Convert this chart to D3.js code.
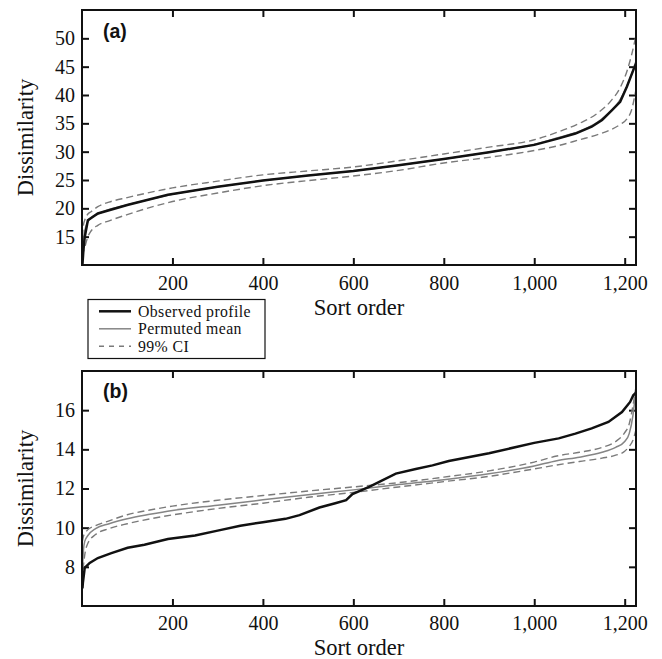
<!DOCTYPE html>
<html lang="en">
<head>
  <meta charset="UTF-8">
  <title>Dissimilarity profiles</title>
  <script src="https://d3js.org/d3.v7.min.js"></script>
  <style>
    body { margin: 0; background: white; }
    .tick text { font-family: "Liberation Serif", "Times New Roman", serif; font-size: 20px; fill: #111; }
    .tick line { stroke: #111; stroke-width: 2px; }
    .frame { fill: none; stroke: #111; stroke-width: 2px; }
    .title { font-family: "Liberation Serif", "Times New Roman", serif; font-size: 22.5px; fill: #111; }
    .panel-label { font-family: "Liberation Sans", Arial, sans-serif; font-size: 19.5px; font-weight: bold; fill: #111; }
    .observed { fill: none; stroke: #111; stroke-width: 2.5px; }
    .mean { fill: none; stroke: #858585; stroke-width: 1.5px; }
    .ci { fill: none; stroke: #7a7a7a; stroke-width: 1.4px; stroke-dasharray: 7,4; }
    .legend text { font-family: "Liberation Serif", "Times New Roman", serif; font-size: 15.8px; letter-spacing: 0.4px; fill: #111; }
  </style>
</head>
<body>
<svg id="chart" width="662" height="659"></svg>
<script>
  // x tick labels (sort order)
  const xTicks = [200, 400, 600, 800, 1000, 1200];

  // panel (a) values
  const yTicksA = [15, 20, 25, 30, 35, 40, 45, 50];
  const ordA = [1, 3, 6, 13, 35, 100, 190, 300, 400, 500, 600, 700, 800, 900, 1000, 1054, 1091, 1127, 1150, 1172, 1190, 1205, 1222, 1225];
  const obsA = [10.1, 12.5, 14.9, 17.9, 19.1, 20.6, 22.4, 23.8, 24.9, 25.8, 26.6, 27.6, 28.7, 29.9, 31.2, 32.35, 33.2, 34.4, 35.6, 37.35, 38.8, 41.5, 45.0, 45.5];
  const gridA = [1, 3, 6, 13, 20, 35, 60, 100, 200, 300, 400, 500, 600, 700, 800, 900, 1000, 1050, 1100, 1140, 1170, 1190, 1205, 1215, 1225];
  const meanA = [11, 14, 16, 17.6, 18.3, 19.0, 19.8, 20.6, 22.5, 23.8, 24.9, 25.8, 26.6, 27.6, 28.7, 29.9, 31.3, 32.4, 33.6, 35.2, 37.2, 39.2, 41.6, 43.6, 46];
  const upperA = [15, 17, 17.9, 19.0, 19.4, 20.3, 21.1, 21.9, 23.6, 24.8, 25.9, 26.6, 27.3, 28.4, 29.6, 30.8, 32.1, 33.4, 35.0, 36.8, 39.0, 41.3, 44.2, 47.0, 50.5];
  const lowerA = [11.5, 12.3, 13.1, 15.0, 16.0, 17.0, 17.8, 18.9, 21.2, 22.7, 24.0, 24.9, 25.7, 26.7, 28.0, 29.0, 30.2, 31.0, 32.1, 33.0, 33.9, 34.8, 35.8, 37.3, 41];

  // panel (b) values
  const yTicksB = [8, 10, 12, 14, 16];
  const ordB = [1, 2, 6, 17, 35, 65, 101, 138, 190, 250, 300, 350, 400, 450, 481, 525, 560, 584, 598, 635, 664, 694, 738, 775, 811, 900, 1000, 1054, 1091, 1127, 1164, 1194, 1212, 1219, 1225];
  const obsB = [6.9, 7.2, 7.95, 8.2, 8.45, 8.7, 8.97, 9.13, 9.42, 9.6, 9.85, 10.1, 10.28, 10.45, 10.64, 11.03, 11.25, 11.4, 11.71, 12.08, 12.42, 12.76, 13.0, 13.18, 13.4, 13.8, 14.33, 14.56, 14.8, 15.07, 15.4, 15.9, 16.42, 16.76, 16.9];
  const gridB = [1, 3, 6, 13, 30, 60, 100, 150, 200, 300, 400, 500, 600, 700, 800, 900, 1000, 1050, 1100, 1150, 1180, 1200, 1210, 1218, 1225];
  const meanB = [7.8, 8.8, 9.3, 9.6, 9.95, 10.2, 10.45, 10.68, 10.88, 11.15, 11.42, 11.68, 11.93, 12.2, 12.45, 12.75, 13.15, 13.42, 13.6, 13.85, 14.1, 14.4, 14.8, 15.7, 17.1];
  const upperB = [9.3, 9.55, 9.7, 9.9, 10.1, 10.35, 10.66, 10.9, 11.1, 11.4, 11.64, 11.87, 12.08, 12.3, 12.58, 12.9, 13.35, 13.66, 13.85, 14.1, 14.4, 14.85, 15.3, 16.2, 17.2];
  const lowerB = [7.3, 8.0, 8.6, 9.2, 9.65, 9.95, 10.2, 10.45, 10.65, 10.98, 11.25, 11.55, 11.8, 12.08, 12.35, 12.62, 13.0, 13.2, 13.38, 13.55, 13.7, 13.9, 14.15, 14.45, 15.0];

  const legendItems = ["Observed profile", "Permuted mean", "99% CI"];

  const svg = d3.select("#chart");
  const left = 82, right = 636;

  const zip = (xs, ys) => xs.map((x, i) => [x, ys[i]]);

  function drawPanel(opt) {
    const x = d3.scaleLinear().domain([0, 1225]).range([left, right]);
    const y = d3.scaleLinear().domain(opt.yDomain).range([opt.bottom, opt.top]);
    const g = svg.append("g");

    // inward ticks on all four sides
    g.append("g").attr("transform", `translate(0,${opt.bottom})`)
      .call(d3.axisBottom(x).tickValues(xTicks).tickFormat(d3.format(",")).tickSizeInner(-7).tickSizeOuter(0).tickPadding(opt.xPad));
    g.append("g").attr("transform", `translate(0,${opt.top})`)
      .call(d3.axisTop(x).tickValues(xTicks).tickFormat("").tickSizeInner(-7).tickSizeOuter(0));
    g.append("g").attr("transform", `translate(${left},0)`)
      .call(d3.axisLeft(y).tickValues(opt.yTicks).tickSizeInner(-7).tickSizeOuter(0).tickPadding(7));
    g.append("g").attr("transform", `translate(${right},0)`)
      .call(d3.axisRight(y).tickValues(opt.yTicks).tickFormat("").tickSizeInner(-7).tickSizeOuter(0));
    g.selectAll(".domain").remove();

    const line = d3.line().x(d => x(d[0])).y(d => y(d[1]));
    const smooth = d3.line().x(d => x(d[0])).y(d => y(d[1])).curve(d3.curveMonotoneX);

    g.append("path").attr("class", "ci").attr("d", smooth(zip(opt.grid, opt.upper)));
    g.append("path").attr("class", "ci").attr("d", smooth(zip(opt.grid, opt.lower)));
    g.append("path").attr("class", "mean").attr("d", smooth(zip(opt.grid, opt.mean)));
    g.append("path").attr("class", "observed").attr("d", line(zip(opt.ord, opt.obs)));

    g.append("rect").attr("class", "frame")
      .attr("x", left).attr("y", opt.top)
      .attr("width", right - left).attr("height", opt.bottom - opt.top);

    g.append("text").attr("class", "panel-label")
      .attr("x", 103).attr("y", opt.labelY).text(opt.label);

    g.append("text").attr("class", "title")
      .attr("text-anchor", "middle")
      .attr("x", (left + right) / 2).attr("y", opt.xTitleY)
      .text("Sort order");

    g.append("text").attr("class", "title")
      .attr("text-anchor", "middle")
      .attr("transform", `translate(33,${(opt.top + opt.bottom) / 2}) rotate(-90)`)
      .text("Dissimilarity");
  }

  drawPanel({
    top: 10, bottom: 265, yDomain: [10, 55], yTicks: yTicksA,
    ord: ordA, obs: obsA, grid: gridA, mean: meanA, upper: upperA, lower: lowerA,
    label: "(a)", labelY: 37.5, xTitleY: 315, xPad: 11
  });

  drawPanel({
    top: 371, bottom: 606, yDomain: [6, 18], yTicks: yTicksB,
    ord: ordB, obs: obsB, grid: gridB, mean: meanB, upper: upperB, lower: lowerB,
    label: "(b)", labelY: 397.5, xTitleY: 654.5, xPad: 9.5
  });

  // legend between the panels
  const legend = svg.append("g").attr("class", "legend");
  legend.append("rect")
    .attr("x", 88).attr("y", 299.5).attr("width", 177).attr("height", 59)
    .attr("fill", "white").attr("stroke", "#111").attr("stroke-width", 1.2);
  const rowY = d3.scaleLinear().domain([0, 2]).range([311.3, 346.3]);
  const rows = legend.selectAll("g.row").data(legendItems).join("g")
    .attr("class", "row")
    .attr("transform", (d, i) => `translate(0,${rowY(i)})`);
  rows.append("line")
    .attr("x1", 99).attr("x2", 131).attr("y1", 0).attr("y2", 0)
    .attr("class", (d, i) => ["observed", "mean", "ci"][i])
    .style("stroke-dasharray", (d, i) => i === 2 ? "5,5" : null);
  rows.append("text").attr("x", 138).attr("dy", "0.33em").text(d => d);
</script>
</body>
</html>
